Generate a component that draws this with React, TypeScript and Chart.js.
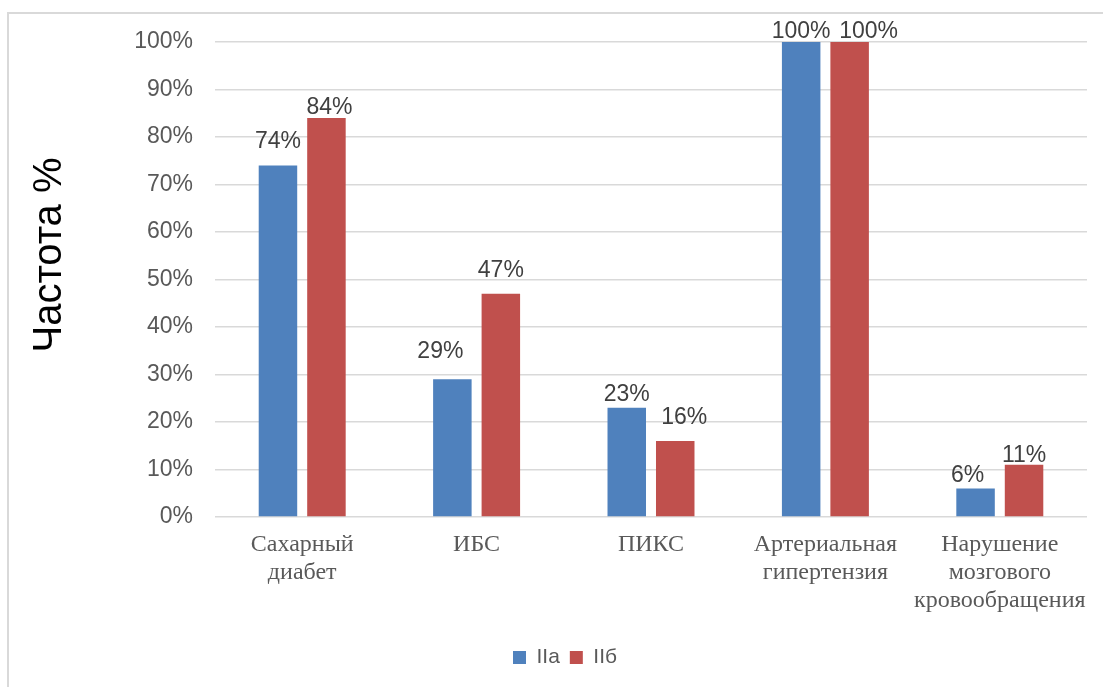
import React, { useEffect, useRef } from "react";
import { Chart, registerables } from "chart.js";

Chart.register(...registerables);

const categories: string[][] = [
  ["Сахарный", "диабет"],
  ["ИБС"],
  ["ПИКС"],
  ["Артериальная", "гипертензия"],
  ["Нарушение", "мозгового", "кровообращения"],
];

const seriesNames = ["IIa", "IIб"];
const valuesIIa = [74, 29, 23, 100, 6];
const valuesIIb = [84, 47, 16, 100, 11];

const yTicks = [0, 10, 20, 30, 40, 50, 60, 70, 80, 90, 100];

// Hand-placed value labels: horizontal shift and gap above the bar top (px)
const labelShiftIIa = [0, -12, 0, 0, -8];
const labelGapIIa = [18, 21, 7, 4, 7];
const labelShiftIIb = [3, 0, 9, 19, 0];
const labelGapIIb = [4, 17, 17, 4, 3];

const valueLabels = {
  id: "valueLabels",
  afterDatasetsDraw(chart: any) {
    const ctx = chart.ctx;
    const shifts = [labelShiftIIa, labelShiftIIb];
    const gaps = [labelGapIIa, labelGapIIb];
    ctx.save();
    ctx.font = "23px 'Liberation Sans', Arial, sans-serif";
    ctx.fillStyle = "#404040";
    ctx.textAlign = "center";
    ctx.textBaseline = "alphabetic";
    chart.data.datasets.forEach((ds: any, di: number) => {
      const meta = chart.getDatasetMeta(di);
      meta.data.forEach((bar: any, i: number) => {
        const v = ds.data[i];
        ctx.fillText(v + "%", bar.x + shifts[di][i], bar.y - gaps[di][i]);
      });
    });
    ctx.restore();
  },
};

const sideTitle = {
  id: "sideTitle",
  afterDraw(chart: any) {
    const ctx = chart.ctx;
    ctx.save();
    ctx.translate(50, 255);
    ctx.rotate(-Math.PI / 2);
    ctx.font = "40px 'Liberation Sans', Arial, sans-serif";
    ctx.fillStyle = "#000000";
    ctx.textAlign = "center";
    ctx.textBaseline = "middle";
    ctx.fillText("Частота %", 0, 0);
    ctx.restore();
  },
};

export default function App() {
  const canvasRef = useRef<HTMLCanvasElement | null>(null);

  useEffect(() => {
    if (!canvasRef.current) return;
    const chart = new Chart(canvasRef.current, {
      type: "bar",
      data: {
        labels: categories,
        datasets: [
          {
            label: seriesNames[0],
            data: valuesIIa,
            backgroundColor: "#4f81bd",
            borderWidth: 0,
          },
          {
            label: seriesNames[1],
            data: valuesIIb,
            backgroundColor: "#c0504d",
            borderWidth: 0,
          },
        ],
      },
      options: {
        responsive: false,
        animation: false,
        layout: { padding: { top: 42, left: 43, right: 16, bottom: 9 } },
        datasets: {
          bar: { categoryPercentage: 0.556, barPercentage: 0.794 },
        },
        plugins: {
          tooltip: { enabled: false },
          legend: {
            position: "bottom",
            labels: {
              boxWidth: 13,
              boxHeight: 13,
              padding: 10,
              color: "#595959",
              font: { family: "'Liberation Sans', Arial, sans-serif", size: 21 },
            },
          },
        },
        scales: {
          x: {
            grid: { display: false, drawTicks: false },
            border: { display: false },
            ticks: {
              color: "#595959",
              padding: 14,
              maxRotation: 0,
              autoSkip: false,
              font: {
                family: "'Liberation Serif', 'Times New Roman', serif",
                size: 24,
                lineHeight: "28px",
              },
            },
            afterFit(scale: any) {
              scale.height = 120;
            },
          },
          y: {
            min: 0,
            max: 100,
            afterBuildTicks(scale: any) {
              scale.ticks = yTicks.map((v) => ({ value: v }));
            },
            grid: { color: "#d9d9d9", lineWidth: 1.5, drawTicks: false },
            border: { display: false },
            ticks: {
              color: "#595959",
              padding: 22,
              font: { family: "'Liberation Sans', Arial, sans-serif", size: 23 },
              callback: (v: any) => v + "%",
            },
            afterFit(scale: any) {
              scale.width = 172;
            },
          },
        },
      },
      plugins: [valueLabels, sideTitle],
    });
    return () => chart.destroy();
  }, []);

  return (
    <div
      style={{
        position: "fixed",
        left: 0,
        top: 0,
        width: 1103,
        height: 687,
        background: "#ffffff",
        overflow: "hidden",
      }}
    >
      <div
        style={{
          position: "absolute",
          left: 7,
          top: 12,
          width: 1200,
          height: 800,
          borderLeft: "2px solid #d9d9d9",
          borderTop: "2px solid #d9d9d9",
        }}
      />
      <canvas
        ref={canvasRef}
        width={1103}
        height={687}
        style={{ position: "absolute", left: 0, top: 0 }}
      />
    </div>
  );
}
